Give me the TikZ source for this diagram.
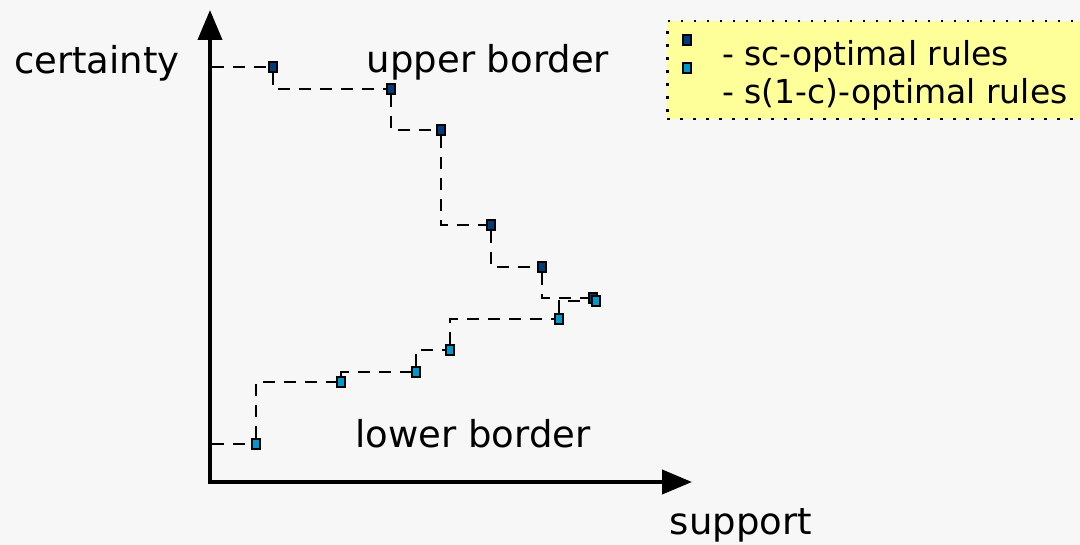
\documentclass[tikz,border=0pt]{standalone}
\usepackage{fontspec}
\setmainfont{DejaVu Sans}
\usetikzlibrary{arrows.meta}
\definecolor{bgc}{HTML}{F7F7F7}
\definecolor{legy}{HTML}{FFFF99}
\definecolor{darkb}{RGB}{0,60,120}
\definecolor{cyanb}{RGB}{0,153,204}
\tikzset{
  mk/.style={draw=black, line width=2.2pt, minimum width=8.5pt, minimum height=10.5pt, inner sep=0pt, fill=#1},
  upt/.style={mk=darkb},
  lpt/.style={mk=cyanb},
  dsh/.style={line width=2pt, dash pattern=on 12pt off 9pt},
  axis/.style={line width=4pt, -{Triangle[width=24pt,length=30pt]}},
  lbl/.style={font=\fontsize{37}{40}\selectfont, inner sep=0pt},
  leg/.style={font=\fontsize{33}{38}\selectfont, inner sep=0pt, anchor=base west},
}
\begin{document}
\begin{tikzpicture}[x=1pt,y=-1pt]
\fill[bgc] (0,0) rectangle (1080,545);
\useasboundingbox (0,0) rectangle (1080,545);
\begin{scope}
\clip (0,0) rectangle (1080,545);
% legend
\node[draw=black, fill=legy, line width=2.5pt, dash pattern=on 2.5pt off 10.5pt, minimum width=440pt, minimum height=98pt, anchor=north west, inner sep=0pt] (legend) at (666,20) {};
\end{scope}
\node[upt] (lg1) at (687,40) {};
\node[lpt] (lg2) at (687,68) {};
\node[leg] (lt1) at (722,66) {- sc-optimal rules};
\node[leg] (lt2) at (722,104) {- s(1-c)-optimal rules};

% axes
\coordinate (ytip) at (210,10);
\coordinate (xtip) at (692,482);
\draw[axis] (210,484) -- (ytip);
\draw[axis] (208,482) -- (xtip);

% labels
\node[lbl] (cert) at (97,63) {certainty};
\node[lbl] (ub) at (488,62) {upper border};
\node[lbl] (lb) at (473,434) {lower border};
\node[lbl] (sup) at (741,525) {support};

% upper points
\node[upt] (u1) at (273,67) {};
\node[upt] (u2) at (391,89) {};
\node[upt] (u3) at (441,130) {};
\node[upt] (u4) at (491,225) {};
\node[upt] (u5) at (542,267) {};
\node[upt] (u6) at (593,298) {};
% lower points
\node[lpt] (l1) at (256,444) {};
\node[lpt] (l2) at (341,382) {};
\node[lpt] (l3) at (416,372) {};
\node[lpt] (l4) at (450,350) {};
\node[lpt] (l5) at (559,319) {};
\node[lpt] (l6) at (596,301) {};

\coordinate (ya) at (212,67);
\coordinate (yb) at (212,444);
\draw[dsh] (ya) -- (u1);
\draw[dsh] (u1) |- (u2);
\draw[dsh] (u2) |- (u3);
\draw[dsh] (u3) |- (u4);
\draw[dsh] (u4) |- (u5);
\draw[dsh] (u5) |- (u6);
\draw[dsh] (yb) -- (l1);
\draw[dsh] (l1) |- (l2);
\draw[dsh] (l2) |- (l3);
\draw[dsh] (l3) |- (l4);
\draw[dsh] (l4) |- (l5);
\draw[dsh] (l5) |- (l6);
% redraw overlapping markers on top
\node[upt] at (u6) {};
\node[lpt] at (l6) {};
\end{tikzpicture}
\end{document}
